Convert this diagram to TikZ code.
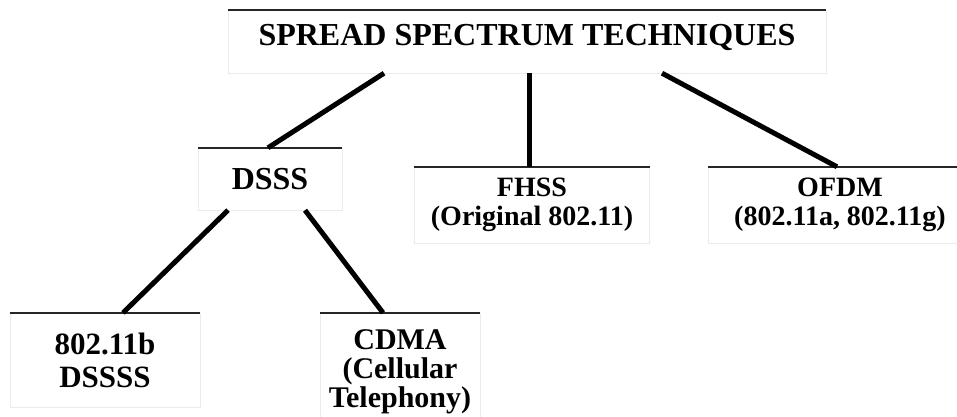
\documentclass[tikz,border=0pt]{standalone}
\usepackage{fontspec}
\setmainfont{Liberation Serif}
\usepackage{tikz}

\begin{document}
\begin{tikzpicture}[x=1pt, y=-1pt,
  tech/.style={draw=black!8, line width=0.4pt, inner sep=0pt, align=center, font=\bfseries},
  rule/.style={line width=2pt, black!85},
  link/.style={line width=5pt, black}]

\useasboundingbox (0,0) rectangle (957,416);

\node[tech, minimum width=598, minimum height=63, text height=22pt, text depth=14pt, font=\bfseries\fontsize{32}{34}\selectfont] (spread) at (527,41.5) {SPREAD SPECTRUM TECHNIQUES};
\node[tech, minimum width=144, minimum height=62, font=\bfseries\fontsize{32}{33}\selectfont] (dsss) at (270,179) {DSSS};
\node[tech, minimum width=235, minimum height=76, font=\bfseries\fontsize{28}{29}\selectfont] (fhss) at (532,205) {FHSS\\(Original 802.11)};
\node[tech, minimum width=264, minimum height=76, font=\bfseries\fontsize{28}{29}\selectfont] (ofdm) at (840,205) {OFDM\\(802.11a, 802.11g)};
\node[tech, minimum width=190, minimum height=94, font=\bfseries\fontsize{31}{33}\selectfont] (dsssb) at (105,360) {802.11b\\DSSSS};
\node[tech, minimum width=160, minimum height=118, font=\bfseries\fontsize{30}{29}\selectfont] (cdma) at (400,372) {CDMA\\(Cellular\\Telephony)};

% dark rule on top of every box
\foreach \n in {spread,dsss,fhss,ofdm,dsssb,cdma}
  \draw[rule] (\n.north west) -- (\n.north east);

% tree links
\draw[link] ([xshift=-143]spread.south) -- ([xshift=-2]dsss.north);
\draw[link] ([xshift=2]spread.south) -- ([xshift=-3]fhss.north);
\draw[link] ([xshift=135]spread.south) -- ([xshift=-3]ofdm.north);
\draw[link] ([xshift=-42]dsss.south) -- ([xshift=18]dsssb.north);
\draw[link] ([xshift=35]dsss.south) -- ([xshift=-17]cdma.north);

\end{tikzpicture}
\end{document}
